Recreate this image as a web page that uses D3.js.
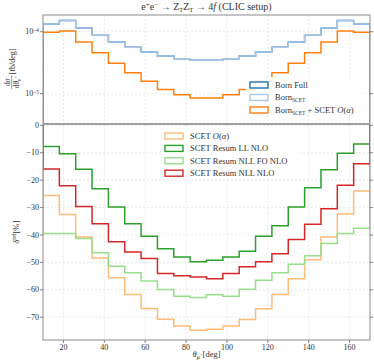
<!DOCTYPE html>
<html><head><meta charset="utf-8">
<script src="https://cdn.jsdelivr.net/npm/d3@7"></script>
<style>body{margin:0;background:#fff}svg{display:block}text{font-family:"Liberation Serif","DejaVu Serif",serif;fill:#333}</style>
</head><body><svg id="c" width="374" height="364"></svg>
<script>
// Bin edges in degrees (theta_mu+)
const binEdges = [10,18,26,34,42,50,58,66,74,82,90,98,106,114,122,130,138,146,154,162,170];
// Top panel: differential cross sections [fb/deg]
const bornFull = [1.33e-4,1.51e-4,1.15e-4,8.96e-5,6.82e-5,5.60e-5,4.71e-5,4.06e-5,3.67e-5,3.45e-5,3.45e-5,3.67e-5,4.06e-5,4.71e-5,5.60e-5,6.82e-5,8.96e-5,1.15e-4,1.51e-4,1.33e-4];
const bornScet = [1.33e-4,1.51e-4,1.15e-4,8.96e-5,6.82e-5,5.60e-5,4.71e-5,4.06e-5,3.67e-5,3.45e-5,3.45e-5,3.67e-5,4.06e-5,4.71e-5,5.60e-5,6.82e-5,8.96e-5,1.15e-4,1.51e-4,1.33e-4];
const bornScetAlpha = [9.77e-5,1.03e-4,6.82e-5,4.59e-5,3.09e-5,2.18e-5,1.58e-5,1.17e-5,9.64e-6,8.53e-6,8.53e-6,9.64e-6,1.17e-5,1.58e-5,2.18e-5,3.09e-5,4.59e-5,6.82e-5,1.03e-4,9.77e-5];
// Bottom panel: relative corrections [%]
const scetAlpha = [-25.6,-32.5,-40.7,-48.4,-55.6,-61.7,-66.8,-70.7,-73.2,-74.7,-74.4,-73.2,-70.8,-66.9,-61.7,-56.0,-49.0,-40.7,-32.3,-24.0];
const resumLLNLO = [-7.75,-10.4,-16.0,-23.1,-29.8,-35.9,-40.5,-45.0,-48.0,-49.8,-49.2,-48.0,-45.9,-40.5,-36.6,-29.8,-22.8,-16.2,-10.2,-6.8];
const resumNLLFONLO = [-39.5,-39.5,-41.3,-46.5,-51.4,-53.8,-56.8,-59.9,-62.3,-62.8,-61.8,-62.3,-59.8,-56.5,-53.8,-50.7,-47.6,-43.1,-39.5,-37.5];
const resumNLLNLO = [-15.9,-22.0,-29.6,-35.9,-42.5,-46.2,-48.6,-54.0,-54.9,-55.3,-56.0,-54.0,-51.6,-49.8,-46.8,-41.6,-36.1,-30.4,-21.9,-14.0];
// Ticks
const xTicks = [20,40,60,80,100,120,140,160];
const yTicksBottom = [0,-10,-20,-30,-40,-50,-60,-70];
const yTicksTop = [1e-4,1e-5];

const svg = d3.select("#c");
const L=43, R=370, T1=15, B1=123.5, T2=124.5, B2=340;
const x = d3.scaleLinear().domain([10,170]).range([L,R]);
const yTop = d3.scaleLog().domain([Math.pow(10,-5.481), Math.pow(10,-3.731)]).range([B1,T1]);
const yBot = d3.scaleLinear().domain([-78.3,0.3]).range([B2,T2]);
const spine = "#8c8c8c", gridC = "#dcdcdc";

const defs = svg.append("defs");
defs.append("clipPath").attr("id","cTop").append("rect").attr("x",L).attr("y",T1).attr("width",R-L).attr("height",B1-T1);
defs.append("clipPath").attr("id","cBot").append("rect").attr("x",L).attr("y",T2).attr("width",R-L).attr("height",B2-T2);

function grid(g, yScale, yT, top, bot){
  xTicks.forEach(t=>g.append("line").attr("x1",x(t)).attr("x2",x(t)).attr("y1",top).attr("y2",bot)
    .attr("stroke",gridC).attr("stroke-width",0.7).attr("stroke-dasharray","2,2"));
  yT.forEach(t=>g.append("line").attr("x1",L).attr("x2",R).attr("y1",yScale(t)).attr("y2",yScale(t))
    .attr("stroke",gridC).attr("stroke-width",0.7).attr("stroke-dasharray","2,2"));
}
grid(svg.append("g"), yTop, yTicksTop, T1, B1);
grid(svg.append("g"), yBot, yTicksBottom, T2, B2);

function stepPts(vals, base){
  const pts=[[binEdges[0],base]];
  vals.forEach((v,i)=>{pts.push([binEdges[i],v]);pts.push([binEdges[i+1],v]);});
  pts.push([binEdges[binEdges.length-1],base]);
  return pts;
}
function drawStep(g, vals, yScale, base, color, w){
  const line = d3.line().x(d=>x(d[0])).y(d=>yScale(d[1]));
  g.append("path").attr("d",line(stepPts(vals,base))).attr("fill","none")
   .attr("stroke",color).attr("stroke-width",w).attr("stroke-linejoin","miter");
}
const gTop = svg.append("g").attr("clip-path","url(#cTop)");
const baseTop = Math.pow(10,-5.6);
drawStep(gTop, bornFull, yTop, baseTop, "#1f77b4", 1.5);
drawStep(gTop, bornScet, yTop, baseTop, "#aec7e8", 1.5);
drawStep(gTop, bornScetAlpha, yTop, baseTop, "#ff7f0e", 1.5);

const gBot = svg.append("g").attr("clip-path","url(#cBot)");
drawStep(gBot, scetAlpha, yBot, 0, "#ffbb78", 1.5);
drawStep(gBot, resumLLNLO, yBot, 0, "#2ca02c", 1.5);
drawStep(gBot, resumNLLFONLO, yBot, 0, "#98df8a", 1.5);
drawStep(gBot, resumNLLNLO, yBot, 0, "#d62728", 1.5);

[[T1,B1],[T2,B2]].forEach(([t,b])=>svg.append("rect").attr("x",L).attr("y",t).attr("width",R-L).attr("height",b-t)
  .attr("fill","none").attr("stroke",spine).attr("stroke-width",1));
svg.append("line").attr("x1",L).attr("x2",R).attr("y1",124).attr("y2",124).attr("stroke","#a0a0a0").attr("stroke-width",2);

const fs = 8;
yTicksBottom.forEach(t=>{
  const yy = yBot(t);
  [[L-3,L],[R,R+3]].forEach(([a,b])=>svg.append("line").attr("x1",a).attr("x2",b).attr("y1",yy).attr("y2",yy).attr("stroke","#555").attr("stroke-width",0.7));
  svg.append("text").attr("x",L-4).attr("y",yy).attr("dy","0.33em").attr("text-anchor","end").attr("font-size",fs)
    .text(t===0?"0":"\u2212"+Math.abs(t));
});
xTicks.forEach(t=>{
  const xx=x(t);
  svg.append("line").attr("x1",xx).attr("x2",xx).attr("y1",B2).attr("y2",B2+3).attr("stroke","#555").attr("stroke-width",0.7);
  svg.append("text").attr("x",xx).attr("y",B2+10).attr("text-anchor","middle").attr("font-size",fs).text(t);
});
yTicksTop.forEach(t=>{
  const yy=yTop(t);
  [[L-3,L],[R,R+3]].forEach(([a,b])=>svg.append("line").attr("x1",a).attr("x2",b).attr("y1",yy).attr("y2",yy).attr("stroke","#555").attr("stroke-width",0.7));
  const tx = svg.append("text").attr("x",L-4).attr("y",yy).attr("dy","0.33em").attr("text-anchor","end").attr("font-size",fs);
  tx.append("tspan").text("10");
  tx.append("tspan").attr("dy","-0.45em").attr("font-size",5.5).text("\u2212"+Math.round(-Math.log10(t)));
});

const title = svg.append("text").attr("x",(L+R)/2).attr("y",10).attr("text-anchor","middle").attr("font-size",10);
title.append("tspan").text("e");
title.append("tspan").attr("dy",-3.5).attr("font-size",7).text("+");
title.append("tspan").attr("dy",3.5).text("e");
title.append("tspan").attr("dy",-3.5).attr("font-size",7).text("\u2212");
title.append("tspan").attr("dy",3.5).text(" \u2192 Z");
title.append("tspan").attr("dy",2).attr("font-size",6.5).text("T");
title.append("tspan").attr("dy",-2).text("Z");
title.append("tspan").attr("dy",2).attr("font-size",6.5).text("T");
title.append("tspan").attr("dy",-2).text(" \u2192 4");
title.append("tspan").attr("font-style","italic").text("f");
title.append("tspan").text(" (CLIC setup)");

const xl = svg.append("text").attr("x",(L+R)/2).attr("y",357).attr("text-anchor","middle").attr("font-size",8.5);
xl.append("tspan").attr("font-style","italic").text("\u03b8");
xl.append("tspan").attr("dy",2).attr("font-size",6).attr("font-style","italic").text("\u03bc");
xl.append("tspan").attr("dy",-3).attr("font-size",5).text("+");
xl.append("tspan").attr("dy",1).text("[deg]");

const yl2 = svg.append("text").attr("transform",`translate(19,${(T2+B2)/2}) rotate(-90)`).attr("text-anchor","middle").attr("font-size",8.5);
yl2.append("tspan").attr("font-style","italic").text("\u03b4");
yl2.append("tspan").attr("dy",-3.5).attr("font-size",6).text("rel");
yl2.append("tspan").attr("dy",3.5).text("[%]");

// top y label (fraction then [fb/deg], reading bottom to top)
const gY1 = svg.append("g").attr("transform",`translate(13,${(T1+B1)/2}) rotate(-90)`);
const fc = -13;
gY1.append("text").attr("x",fc).attr("y",-3).attr("text-anchor","middle").attr("font-size",7.5)
  .append("tspan").text("d").append("tspan").attr("font-style","italic").text("\u03c3");
const den = gY1.append("text").attr("x",fc).attr("y",5.5).attr("text-anchor","middle").attr("font-size",7.5);
den.append("tspan").text("d");
den.append("tspan").attr("font-style","italic").text("\u03b8");
den.append("tspan").attr("dy",1.5).attr("font-size",5).attr("font-style","italic").text("\u03bc");
den.append("tspan").attr("dy",-3).attr("font-size",4).text("+");
gY1.append("line").attr("x1",fc-7).attr("x2",fc+7).attr("y1",-1.3).attr("y2",-1.3).attr("stroke","#333").attr("stroke-width",0.5);
gY1.append("text").attr("x",-5).attr("y",1.5).attr("text-anchor","start").attr("font-size",8).text("[fb/deg]");

function legend(items, x0, y0, dy, w, h){
  const g = svg.append("g");
  g.append("rect").attr("x",x0-4).attr("y",y0-8).attr("width",w).attr("height",h).attr("rx",2)
    .attr("fill","#fff").attr("fill-opacity",0.85);
  items.forEach((it,i)=>{
    const yy=y0+i*dy;
    g.append("rect").attr("x",x0).attr("y",yy-3).attr("width",18).attr("height",6)
      .attr("fill","none").attr("stroke",it.color).attr("stroke-width",1.4);
    const t = g.append("text").attr("x",x0+25).attr("y",yy).attr("dy","0.33em").attr("font-size",8.5);
    it.parts.forEach(p=>{
      const s = t.append("tspan").text(p.t);
      if(p.sub) s.attr("font-size",5.5).attr("dy",2);
      if(p.back) s.attr("dy",-2);
      if(p.it) s.attr("font-style","italic");
    });
  });
}
legend([
  {color:"#1f77b4", parts:[{t:"Born Full"}]},
  {color:"#aec7e8", parts:[{t:"Born"},{t:"SCET",sub:true}]},
  {color:"#ff7f0e", parts:[{t:"Born"},{t:"SCET",sub:true},{t:" + SCET ",back:true},{t:"O",it:true},{t:"("},{t:"\u03b1",it:true},{t:")"}]}
], 250, 85, 12.5, 120, 36);
legend([
  {color:"#ffbb78", parts:[{t:"SCET "},{t:"O",it:true},{t:"("},{t:"\u03b1",it:true},{t:")"}]},
  {color:"#2ca02c", parts:[{t:"SCET Resum LL NLO"}]},
  {color:"#98df8a", parts:[{t:"SCET Resum NLL FO NLO"}]},
  {color:"#d62728", parts:[{t:"SCET Resum NLL NLO"}]}
], 165, 136, 12.4, 140, 50);
</script></body></html>
